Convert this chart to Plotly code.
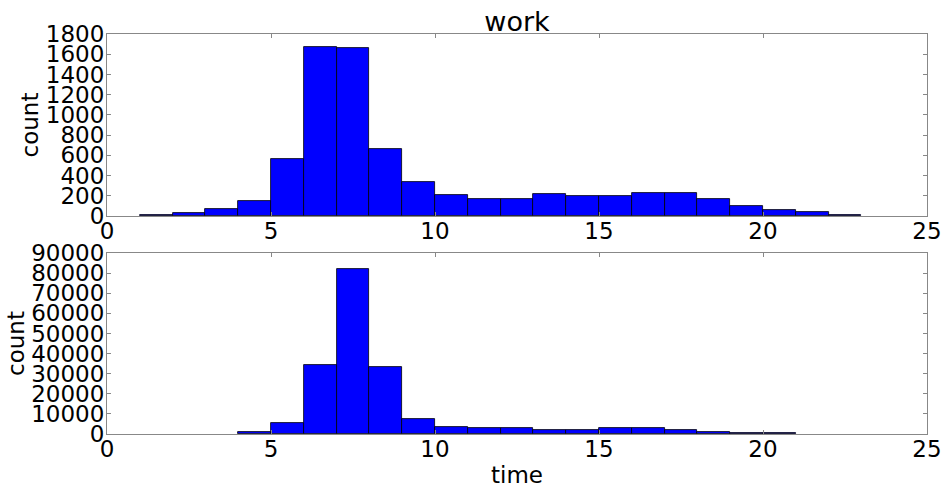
import plotly.graph_objects as go
from plotly.subplots import make_subplots

# bin left edges (hours) and counts
bins_top = list(range(1, 23))
counts_top = [7, 27, 66, 152, 565, 1668, 1658, 664, 334, 205, 165, 168,
              222, 195, 195, 228, 232, 168, 96, 56, 37, 14]
bins_bottom = list(range(4, 21))
counts_bottom = [800, 5600, 34400, 82000, 33100, 7450, 3630, 2980,
                 2800, 2150, 2150, 2800, 2800, 1800, 1000, 650, 300]

x_ticks = [0, 5, 10, 15, 20, 25]
y_ticks_top = list(range(0, 1801, 200))
y_ticks_bottom = list(range(0, 90001, 10000))
y_labels_bottom = [str(v) for v in y_ticks_bottom]

FONT = "DejaVu Sans"
FRAME = "#888888"

fig = make_subplots(rows=2, cols=1, vertical_spacing=0.0925)

bar_style = dict(marker=dict(color="#0000ff", line=dict(color="#000000", width=0.8)),
                 width=1, offset=0, showlegend=False, hoverinfo="x+y")
fig.add_trace(go.Bar(x=bins_top, y=counts_top, **bar_style), row=1, col=1)
fig.add_trace(go.Bar(x=bins_bottom, y=counts_bottom, **bar_style), row=2, col=1)

axis_common = dict(showline=True, linecolor=FRAME, linewidth=1, mirror="ticks",
                   ticks="inside", ticklen=4, tickcolor=FRAME, showgrid=False,
                   zeroline=False, automargin=False,
                   tickfont=dict(family=FONT, size=23, color="black"))

fig.update_xaxes(range=[0, 25], tickvals=x_ticks, ticklabelstandoff=-6, **axis_common)
fig.update_yaxes(ticklabelstandoff=-3, **axis_common)
fig.update_yaxes(range=[0, 1800], tickvals=y_ticks_top, domain=[0.545, 1.0],
                 title=dict(text="count", font=dict(family=FONT, size=23), standoff=0),
                 row=1, col=1)
fig.update_yaxes(range=[0, 90000], tickvals=y_ticks_bottom, ticktext=y_labels_bottom,
                 domain=[0.0, 0.4525],
                 title=dict(text="count", font=dict(family=FONT, size=23), standoff=0),
                 row=2, col=1)
fig.update_xaxes(title=dict(text="time", font=dict(family=FONT, size=23), standoff=6),
                 row=2, col=1)

fig.update_layout(
    width=943, height=489,
    margin=dict(l=107, r=16, t=34, b=55, autoexpand=False),
    paper_bgcolor="white", plot_bgcolor="white",
    bargap=0,
    font=dict(family=FONT, color="black"),
    title=dict(text="work", font=dict(family=FONT, size=27, color="black"),
               x=0.5, xref="paper", xanchor="center",
               y=1 - 22 / 489, yref="container", yanchor="middle"),
)

fig.write_html("out.html", config={"displayModeBar": False},
               post_script="document.body.style.margin='0';document.body.style.overflow='hidden';")
